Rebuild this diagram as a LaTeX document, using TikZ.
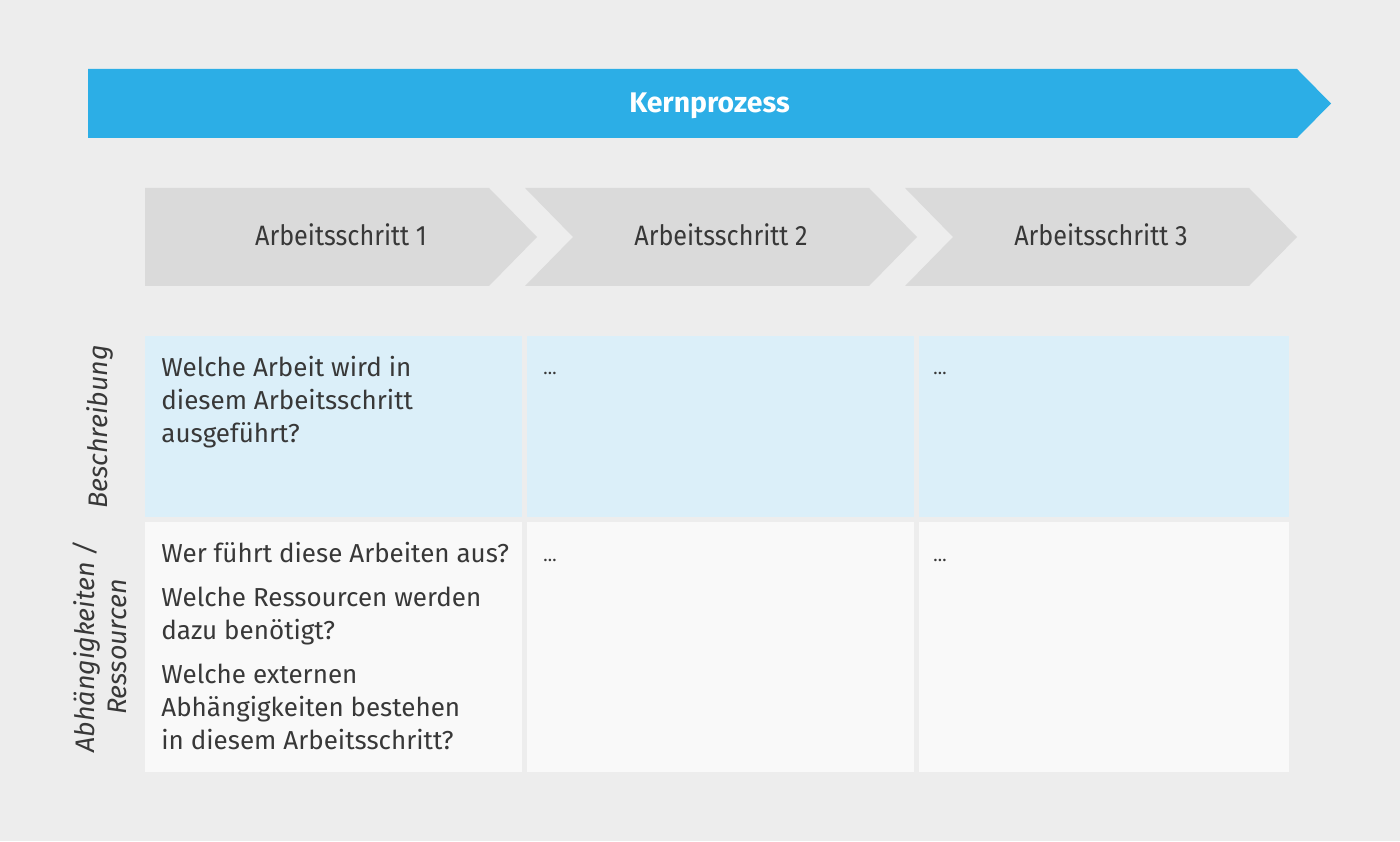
\documentclass[tikz,border=0pt]{standalone}
\usepackage{fontspec}
\setmainfont{Fira Sans}
\newfontfamily\stepfont{Fira Sans}[FakeStretch=0.9]
\usepackage{tikz}
\usetikzlibrary{
	positioning
}

\definecolor{bggray}{HTML}{EDEDED}
\definecolor{kernblue}{HTML}{2CAEE6}
\definecolor{stepgray}{HTML}{DADADA}
\definecolor{descblue}{HTML}{DBEFF9}
\definecolor{resgray}{HTML}{F9F9F9}
\definecolor{textgray}{HTML}{383838}

\begin{document}
\begin{tikzpicture}[x=1pt,y=1pt,
		kernlabel/.style={font=\bfseries\fontsize{14.2}{17}\selectfont,text=white,inner sep=0pt,anchor=base},
		steplabel/.style={font=\stepfont\fontsize{14}{17}\selectfont,text=textgray,inner sep=0pt,anchor=base},
		cellbox/.style={anchor=north west,inner sep=0pt,minimum height=#1},
		celltext/.style={font=\fontsize{13}{16.5}\selectfont,text=textgray,inner sep=0pt,align=left},
		celldots/.style={font=\fontsize{9}{11}\selectfont,text=textgray,inner sep=0pt},
		sidelabel/.style={font=\itshape\fontsize{13.4}{16}\selectfont,text=textgray,inner sep=0pt,rotate=90,align=center}
	]
		% background and page size
		\fill[bggray] (0,0) rectangle (700,420.5);

		% core process
		\fill[kernblue] (44,351.5) -- (648.5,351.5) -- (665.5,368.75) -- (648.5,386) -- (44,386) -- cycle;
		\node[kernlabel] (kern) at (354.75,364.3) {Kernprozess};

		% work steps
		\foreach \i in {1,2,3}{
			\pgfmathsetmacro\sx{72.5+190*(\i-1)}
			\pgfmathsetmacro\notch{\i==1 ? 0 : 24}
			\fill[stepgray] (\sx,277.5) -- ++(172,0) -- ++(24,24.5) -- ++(-24,24.5) -- ++(-172,0) -- ++(\notch,-24.5) -- cycle;
			\node[steplabel] (step\i) at (\sx+98,297.5) {Arbeitsschritt \i};
		}

		% table cells
		\foreach \x/\w [count=\i] in {72.5/188.5, 263.5/193.5, 459.5/185}{
			\node[cellbox=90.5pt,minimum width=\w pt,fill=descblue] (desc\i) at (\x,252.5) {};
			\node[cellbox=125pt,minimum width=\w pt,fill=resgray]  (res\i)  at (\x,159.5) {};
		}

		\node[celltext,below right=10pt and 8pt of desc1.north west] (desctext)
			{Welche Arbeit wird in\\diesem Arbeitsschritt\\ausgeführt?};
		\node[celltext,below right=10pt and 8pt of res1.north west] (restext)
			{Wer führt diese Arbeiten aus?\\[5.5pt]
			 Welche Ressourcen werden\\dazu benötigt?\\[5.5pt]
			 Welche externen\\Abhängigkeiten bestehen\\in diesem Arbeitsschritt?};

		\node[celldots,anchor=base west] (desc2dots) at ([shift={(8pt,-19.5pt)}]desc2.north west) {…};
		\node[celldots,anchor=base west] (desc3dots) at ([shift={(7pt,-19.5pt)}]desc3.north west) {…};
		\node[celldots,anchor=base west] (res2dots)  at ([shift={(8pt,-19.5pt)}]res2.north west)  {…};
		\node[celldots,anchor=base west] (res3dots)  at ([shift={(7pt,-19.5pt)}]res3.north west)  {…};

		% row labels
		\node[sidelabel] (desclabel) at (50,207) {Beschreibung};
		\node[sidelabel] (reslabel)  at (50,97)  {Abhängigkeiten /\\Ressourcen};
	\end{tikzpicture}
\end{document}
